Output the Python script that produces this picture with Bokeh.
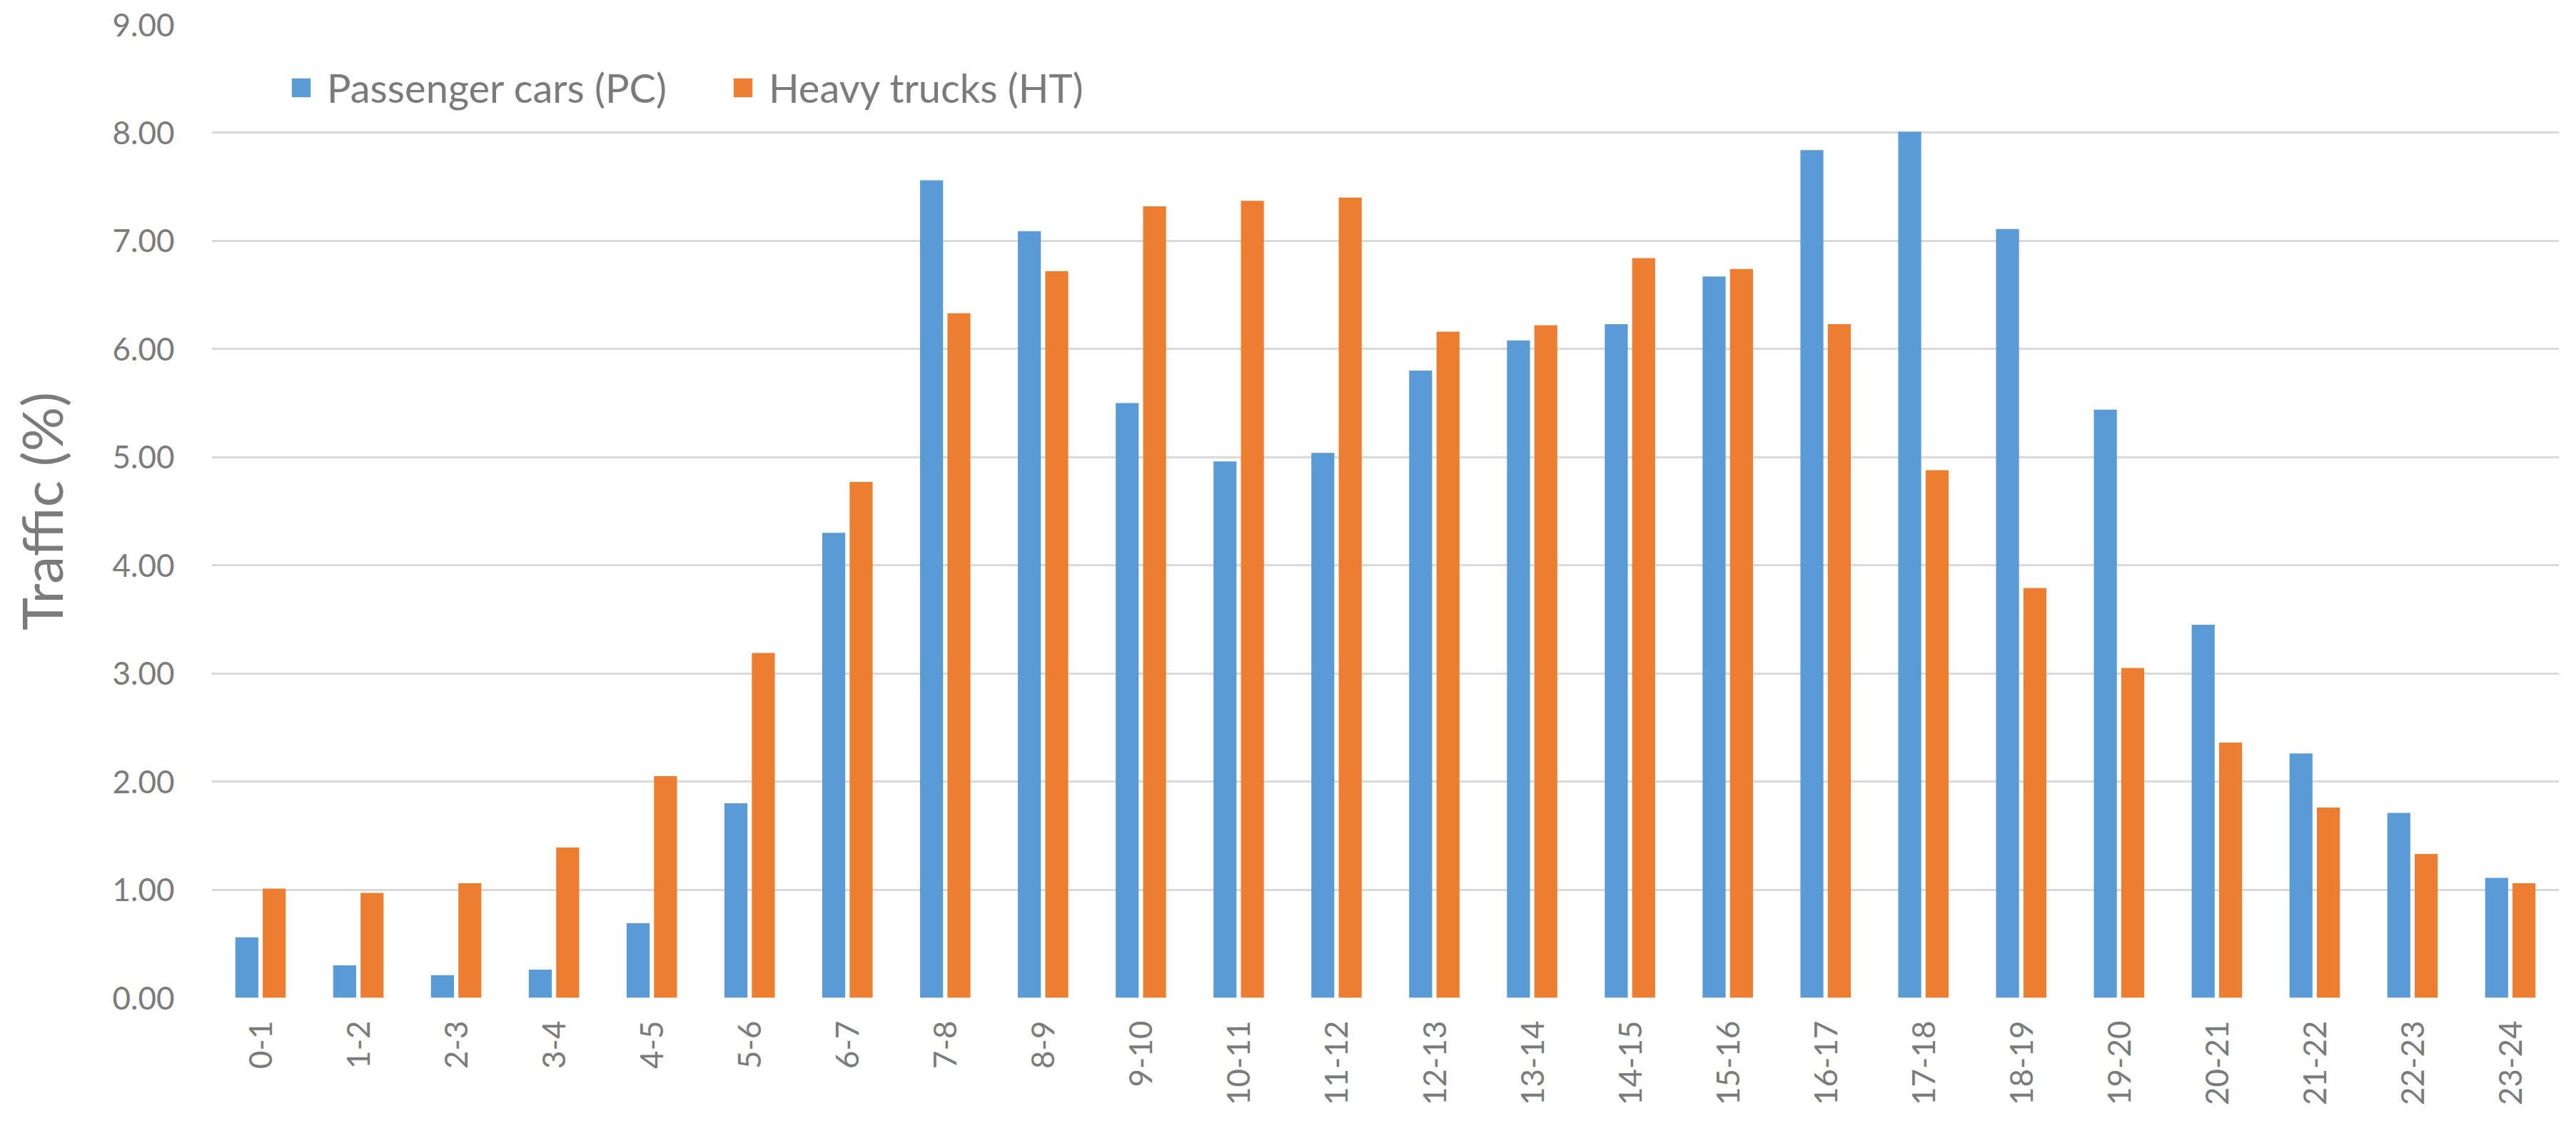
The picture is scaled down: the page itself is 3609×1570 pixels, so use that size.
import math
from bokeh.plotting import figure
from bokeh.models import FactorRange, FixedTicker, NumeralTickFormatter, Legend, LegendItem, ColumnDataSource
from bokeh.transform import dodge
from bokeh.embed import file_html
from bokeh.resources import INLINE

hours = ["0-1", "1-2", "2-3", "3-4", "4-5", "5-6", "6-7", "7-8", "8-9", "9-10", "10-11", "11-12",
         "12-13", "13-14", "14-15", "15-16", "16-17", "17-18", "18-19", "19-20", "20-21", "21-22",
         "22-23", "23-24"]
pc = [0.56, 0.30, 0.21, 0.26, 0.69, 1.80, 4.30, 7.56, 7.09, 5.50, 4.96, 5.04,
      5.80, 6.08, 6.23, 6.67, 7.84, 8.01, 7.11, 5.44, 3.45, 2.26, 1.71, 1.11]
ht = [1.01, 0.97, 1.06, 1.39, 2.05, 3.19, 4.77, 6.33, 6.72, 7.32, 7.37, 7.40,
      6.16, 6.22, 6.84, 6.74, 6.23, 4.88, 3.79, 3.05, 2.36, 1.76, 1.33, 1.06]
y_ticks = [0, 1, 2, 3, 4, 5, 6, 7, 8, 9]

FONT = "Lato"
GRAY = "#7b7b7b"

src = ColumnDataSource(dict(hour=hours, pc=pc, ht=ht))

p = figure(x_range=FactorRange(*hours), y_range=(0, 9),
           frame_width=3289, frame_height=1363,
           output_backend="svg", toolbar_location=None,
           min_border_left=296, min_border_right=8, min_border_top=34, min_border_bottom=157)
p.outline_line_color = None
p.background_fill_color = "white"

r1 = p.vbar(x=dodge("hour", -0.14, range=p.x_range), top="pc", width=0.235, source=src,
            fill_color="#5B9BD5", line_color=None)
r2 = p.vbar(x=dodge("hour", 0.14, range=p.x_range), top="ht", width=0.235, source=src,
            fill_color="#ED7D31", line_color=None)

p.x_range.range_padding = 0
p.x_range.factor_padding = 0

p.xgrid.grid_line_color = None
p.ygrid.grid_line_color = "#d9d9d9"
p.ygrid.grid_line_width = 3
p.ygrid.level = "underlay"

p.yaxis.ticker = FixedTicker(ticks=y_ticks)
p.yaxis.formatter = NumeralTickFormatter(format="0.00")
for ax in (p.xaxis[0], p.yaxis[0]):
    ax.axis_line_color = None
    ax.major_tick_line_color = None
    ax.minor_tick_line_color = None
    ax.major_tick_out = 0
    ax.major_tick_in = 0
    ax.major_label_text_font = FONT
    ax.major_label_text_color = GRAY
    ax.major_label_text_font_size = "44px"

p.yaxis.major_label_standoff = 52
p.yaxis.axis_label = "Traffic (%)"
p.yaxis.axis_label_text_font = FONT
p.yaxis.axis_label_text_font_style = "normal"
p.yaxis.axis_label_text_color = GRAY
p.yaxis.axis_label_text_font_size = "78px"
p.yaxis.axis_label_standoff = 50

p.xaxis.major_label_orientation = math.pi / 2
p.xaxis.major_label_standoff = 32

legend = Legend(items=[LegendItem(label="Passenger cars (PC)", renderers=[r1]),
                       LegendItem(label="Heavy trucks (HT)", renderers=[r2])],
                orientation="horizontal", location=(109, 1363 - 122))
legend.label_text_font = FONT
legend.label_text_font_size = "56px"
legend.label_text_color = GRAY
legend.glyph_width = 33
legend.glyph_height = 33
legend.label_standoff = 20
legend.spacing = 90
legend.padding = 0
legend.margin = 0
legend.border_line_color = None
legend.background_fill_alpha = 0
p.add_layout(legend, "center")

open("out.html", "w").write(file_html(p, INLINE))
